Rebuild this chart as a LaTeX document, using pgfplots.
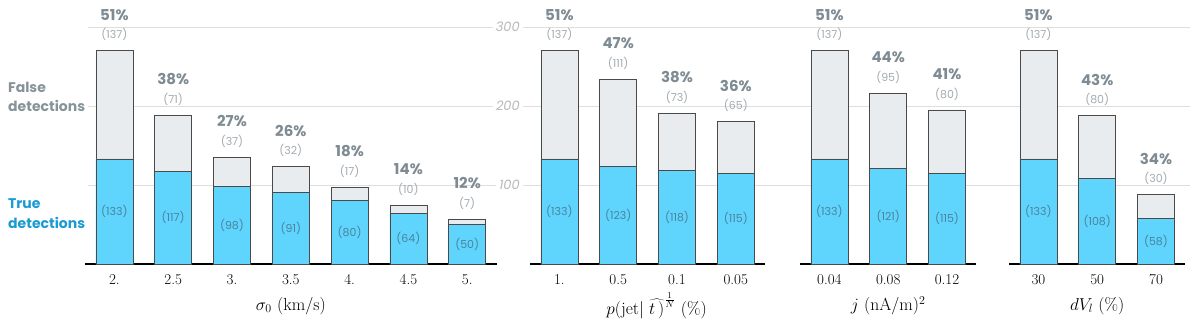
\documentclass[border=0pt]{standalone}
\usepackage{fontspec}
\usepackage{pgfplots}
\usepackage{pgfplotstable}
\pgfplotsset{compat=1.18}
\newfontfamily\pop{Poppins}

\definecolor{barblue}{HTML}{5FD4FD}
\definecolor{bargray}{HTML}{E9ECEE}
\definecolor{baredge}{HTML}{4A4A4A}
\definecolor{pctgray}{HTML}{7E8B92}
\definecolor{cntgray}{HTML}{A3ABB0}
\definecolor{innertext}{HTML}{4A84A0}
\definecolor{falsegray}{HTML}{86939A}
\definecolor{trueblue}{HTML}{1A9BD3}
\definecolor{gridgray}{HTML}{DEDEDE}
\definecolor{ylabgray}{HTML}{B8B8B8}

\pgfplotstableread{
x t f p
0 133 137 51
1 117 71 38
2 98 37 27
3 91 32 26
4 80 17 18
5 64 10 14
6 50 7 12
}\tA
\pgfplotstableread{
x t f p
0 133 137 51
1 123 111 47
2 118 73 38
3 115 65 36
}\tB
\pgfplotstableread{
x t f p
0 133 137 51
1 121 95 44
2 115 80 41
}\tC
\pgfplotstableread{
x t f p
0 133 137 51
1 108 80 43
2 58 30 34
}\tD

\pgfplotsset{
 panel/.style={anchor=south west, scale only axis, height=237pt, ymin=0, ymax=300,
   clip=false, axis x line=bottom, axis y line=left,
   x axis line style={-, line width=1.3pt, black},
   y axis line style={draw=none},
   major tick length=0pt, ytick=\empty,
   xticklabel style={font=\fontsize{15}{18}\selectfont, yshift=-7pt},
   xlabel style={at={(axis description cs:0.5,0)}, anchor=center, yshift=-42pt,
     font=\fontsize{17.5}{20}\selectfont}},
 tot/.style={ybar, bar width=37pt, bar shift=0pt, fill=bargray, draw=baredge, line width=0.8pt},
 tru/.style={ybar, bar width=37pt, bar shift=0pt, fill=barblue, draw=baredge, line width=0.8pt},
 pctlab/.style={draw=none, mark=none, nodes near coords={\pgfplotspointmeta\%},
   point meta=explicit symbolic,
   nodes near coords style={anchor=center, yshift=36pt, text=pctgray,
     font=\pop\bfseries\fontsize{15}{17}\selectfont}},
 cntlab/.style={draw=none, mark=none, nodes near coords={(\pgfplotspointmeta)},
   point meta=explicit symbolic,
   nodes near coords style={anchor=center, yshift=16pt, text=cntgray,
     font=\pop\fontsize{11}{13}\selectfont}},
 inlab/.style={draw=none, mark=none, nodes near coords={(\pgfplotspointmeta)},
   point meta=explicit symbolic,
   nodes near coords style={anchor=center, text=innertext,
     font=\pop\fontsize{11}{13}\selectfont}},
}

\newcommand{\panelplots}[1]{%
  \addplot[tot] table[x=x, y expr=\thisrow{t}+\thisrow{f}] {#1};
  \addplot[tru] table[x=x, y=t] {#1};
  \addplot[pctlab] table[x=x, y expr=\thisrow{t}+\thisrow{f}, meta=p] {#1};
  \addplot[cntlab] table[x=x, y expr=\thisrow{t}+\thisrow{f}, meta=f] {#1};
  \addplot[inlab] table[x=x, y expr=\thisrow{t}/2, meta=t] {#1};
}

\begin{document}
\begin{tikzpicture}
% background grid
\begin{axis}[at={(88pt,61pt)}, anchor=south west, scale only axis, width=1102pt, height=237pt,
  xmin=0, xmax=1, ymin=0, ymax=300, axis line style={draw=none}, xtick=\empty,
  ytick={100,200,300}, yticklabels={}, major tick length=0pt, ymajorgrids,
  grid style={gridgray, line width=0.9pt}]
\addplot[draw=none] coordinates {(0,0)};
\end{axis}

% panel 1
\begin{axis}[panel, at={(85pt,61pt)}, width=411.6pt, xmin=-0.5, xmax=6.5,
  xtick={0,...,6}, xticklabels={2.,2.5,3.,3.5,4.,4.5,5.},
  xlabel={$\sigma_0$ (km/s)}]
\panelplots{\tA}
\end{axis}

% panel 2
\begin{axis}[panel, at={(530pt,61pt)}, width=235.2pt, xmin=-0.5, xmax=3.5,
  xtick={0,...,3}, xticklabels={1.,0.5,0.1,0.05},
  ytick={100,200,300},
  yticklabel style={anchor=east, fill=white, inner xsep=3pt, xshift=-7pt, text=ylabgray,
    font=\pop\itshape\fontsize{13}{15}\selectfont},
  /pgf/number format/assume math mode=true,
  xlabel={$p(\mathrm{jet}|\ \widehat{t\,)}^{\frac{1}{N}}$ (\%)}, xlabel style={xshift=9pt}]
\panelplots{\tB}
\end{axis}

% panel 3
\begin{axis}[panel, at={(800pt,61pt)}, width=176.4pt, xmin=-0.5, xmax=2.5,
  xtick={0,...,2}, xticklabels={0.04,0.08,0.12},
  xlabel={$j$ (nA/m)$^2$}]
\panelplots{\tC}
\end{axis}

% panel 4
\begin{axis}[panel, at={(1009pt,61pt)}, width=176.4pt, xmin=-0.5, xmax=2.5,
  xtick={0,...,2}, xticklabels={30,50,70},
  xlabel={$dV_l$ (\%)}]
\panelplots{\tD}
\end{axis}

% side labels
\node[anchor=base west, inner sep=0pt, text=falsegray, font=\pop\bfseries\fontsize{14}{16}\selectfont] at (8pt,233pt) {False};
\node[anchor=base west, inner sep=0pt, text=falsegray, font=\pop\bfseries\fontsize{14}{16}\selectfont] at (8pt,214pt) {detections};
\node[anchor=base west, inner sep=0pt, text=trueblue, font=\pop\bfseries\fontsize{14}{16}\selectfont] at (8pt,117pt) {True};
\node[anchor=base west, inner sep=0pt, text=trueblue, font=\pop\bfseries\fontsize{14}{16}\selectfont] at (8pt,97pt) {detections};

\pgfresetboundingbox
\path (0pt,0pt) rectangle (1200pt,325pt);
\end{tikzpicture}
\end{document}
